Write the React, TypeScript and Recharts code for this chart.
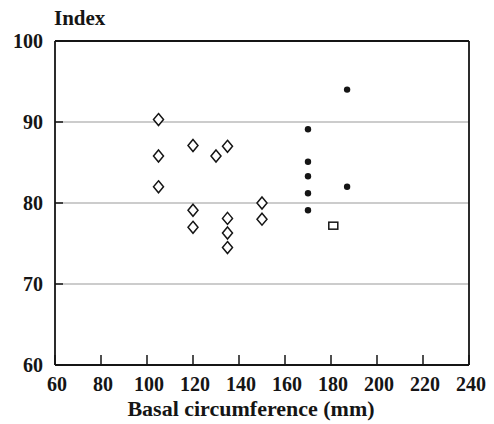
import React from 'react';
import { ScatterChart, Scatter, XAxis, YAxis, CartesianGrid, ReferenceLine } from 'recharts';

const xTicks = [60, 80, 100, 120, 140, 160, 180, 200, 220, 240];
const yTicks = [60, 70, 80, 90, 100];

const diamondX = [105, 105, 105, 120, 120, 120, 130, 135, 135, 135, 135, 150, 150];
const diamondY = [90.3, 85.8, 82.0, 87.1, 79.1, 77.0, 85.8, 87.0, 78.1, 76.3, 74.5, 80.0, 78.0];

const dotX = [170, 170, 170, 170, 170, 187, 187];
const dotY = [89.1, 85.1, 83.3, 81.2, 79.1, 94.0, 82.0];

const squareX = [181];
const squareY = [77.2];

const xTitle = 'Basal circumference (mm)';
const yTitle = 'Index';

const toPoints = (xs: number[], ys: number[]) => xs.map((x, i) => ({ x, y: ys[i] }));
const diamonds = toPoints(diamondX, diamondY);
const dots = toPoints(dotX, dotY);
const squares = toPoints(squareX, squareY);

const FONT = "'Liberation Serif', 'Times New Roman', serif";
const INK = '#151515';

const Diamond = (p: any) => {
  const { cx, cy } = p;
  return (
    <path
      d={`M${cx},${cy - 6} L${cx + 5},${cy} L${cx},${cy + 6} L${cx - 5},${cy} Z`}
      fill="#fff"
      stroke={INK}
      strokeWidth={1.5}
    />
  );
};
const Dot = (p: any) => <circle cx={p.cx} cy={p.cy} r={3.2} fill={INK} />;
const Square = (p: any) => (
  <rect x={p.cx - 4.5} y={p.cy - 3.5} width={9} height={7} fill="#fff" stroke={INK} strokeWidth={1.5} />
);

const XTick = (p: any) => {
  const { x, y, payload } = p;
  return (
    <g>
      <line x1={x} x2={x} y1={y} y2={y - 10} stroke={INK} strokeWidth={1.5} />
      <text x={x + 2} y={y + 26} textAnchor="middle" fontFamily={FONT} fontWeight="bold" fontSize={20} fill={INK}>
        {payload.value}
      </text>
    </g>
  );
};

const YTick = (p: any) => {
  const { x, y, payload } = p;
  return (
    <g>
      <line x1={x} x2={x + 8} y1={y} y2={y} stroke={INK} strokeWidth={1.5} />
      <text x={x - 12} y={y + 7} textAnchor="end" fontFamily={FONT} fontWeight="bold" fontSize={20} fill={INK}>
        {payload.value}
      </text>
    </g>
  );
};

export default function App() {
  return (
    <div style={{ position: 'absolute', left: 0, top: 0, width: 494, height: 424, background: '#fff' }}>
      <ScatterChart width={494} height={424} margin={{ top: 41, right: 25, bottom: 0, left: 0 }}>
        <CartesianGrid vertical={false} stroke="#9a9a9a" strokeWidth={1.2} />
        <XAxis
          type="number"
          dataKey="x"
          domain={[60, 240]}
          ticks={xTicks}
          height={59}
          tickSize={0}
          tickMargin={0}
          tickLine={false}
          tick={<XTick />}
          axisLine={{ stroke: INK, strokeWidth: 1.8 }}
          interval={0}
          label={{
            content: (lp: any) => {
              const vb = lp.viewBox;
              return (
                <text
                  x={vb.x + vb.width / 2 - 11}
                  y={vb.y + 51}
                  textAnchor="middle"
                  fontFamily={FONT}
                  fontWeight="bold"
                  fontSize={22}
                  fill={INK}
                >
                  {xTitle}
                </text>
              );
            },
          }}
        />
        <YAxis
          type="number"
          dataKey="y"
          domain={[60, 100]}
          ticks={yTicks}
          width={55}
          tickSize={0}
          tickMargin={0}
          tickLine={false}
          tick={<YTick />}
          axisLine={{ stroke: INK, strokeWidth: 1.8 }}
          interval={0}
          label={{
            content: (lp: any) => {
              const vb = lp.viewBox;
              return (
                <text x={vb.x + 54} y={25} textAnchor="start" fontFamily={FONT} fontWeight="bold" fontSize={21} fill={INK}>
                  {yTitle}
                </text>
              );
            },
          }}
        />
        <ReferenceLine y={100} stroke={INK} strokeWidth={1.8} />
        <ReferenceLine x={240} stroke={INK} strokeWidth={1.8} />
        <Scatter data={diamonds} shape={Diamond} isAnimationActive={false} />
        <Scatter data={dots} shape={Dot} isAnimationActive={false} />
        <Scatter data={squares} shape={Square} isAnimationActive={false} />
      </ScatterChart>
    </div>
  );
}
